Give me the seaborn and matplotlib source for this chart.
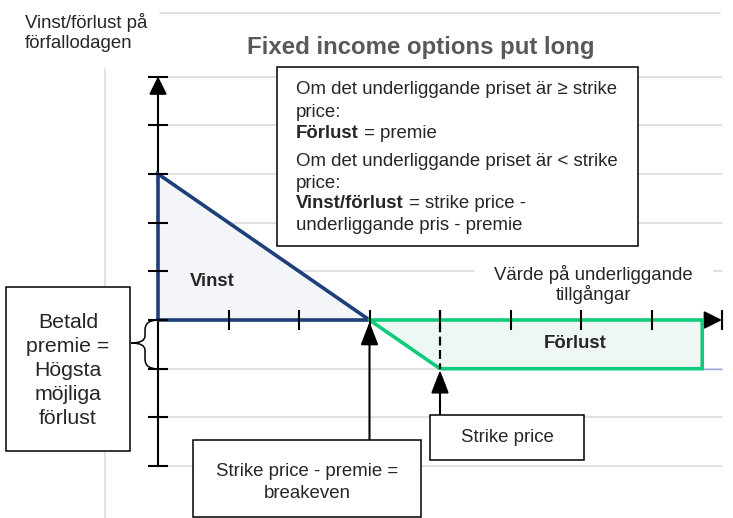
import matplotlib
matplotlib.use('Agg')
import matplotlib.pyplot as plt
import seaborn as sns
import pandas as pd
from matplotlib.patches import Rectangle, PathPatch
from matplotlib.path import Path

# payoff values (x: price steps, y: premium steps)
strike = 4
breakeven = 3
vinst_x = [0, 0, 3, 0]
vinst_y = [0, 3, 0, 0]
forlust_x = [3, 4, 7.72, 7.72, 3]
forlust_y = [0, -1, -1, 0, 0]
x_ticks = [1, 2, 3, 4, 5, 6, 7, 8]
y_ticks = [-3, -2, -1, 0, 1, 2, 3, 4, 5]
grid_y = [-3, -2, -1, 1, 2, 3, 4, 5]
x_end = 8

info_lines = [
    ("", "Om det underliggande priset är ≥ strike"),
    ("", "price:"),
    ("Förlust", " = premie"),
    ("", "Om det underliggande priset är < strike"),
    ("", "price:"),
    ("Vinst/förlust", " = strike price -"),
    ("", "underliggande pris - premie"),
]
premie_lines = ["Betald", "premie =", "Högsta", "möjliga", "förlust"]

blue = '#1d3f7a'
green = '#0fcc7c'
grid_c = '#d9d9d9'
fs = 13.4

sns.set_style('white')
plt.rcParams['font.family'] = ['Liberation Sans', 'DejaVu Sans']

# pixel layout of the picture
W, H = 733, 518
X0, Y0 = 158, 320
UX, UY = 70.5, 48.7


def px(x, y):
    return (x - X0) / UX, (Y0 - y) / UY


def box(x0, y0, x1, y1, **kw):
    bx, by = px(x0, y1)
    r = Rectangle((bx, by), (x1 - x0) / UX, (y1 - y0) / UY, **kw)
    ax.add_patch(r)


fig = plt.figure(figsize=(7.33, 5.18), dpi=100)
ax = fig.add_axes([0, 0, 1, 1])
ax.set_xlim(-X0 / UX, (W - X0) / UX)
ax.set_ylim(-(H - Y0) / UY, Y0 / UY)
ax.axis('off')

# gridlines and frame lines
ax.hlines(grid_y, 0, x_end, color=grid_c, lw=1.1, zorder=1)
ax.plot(*zip(px(160, 13), px(720, 13)), color=grid_c, lw=1.1, zorder=1)
ax.plot(*zip(px(105, 69), px(105, 520)), color=grid_c, lw=1.1, zorder=1)
ax.hlines(-1, forlust_x[2], x_end, color='#8faadc', lw=1, zorder=1)

# axes with arrows
head = dict(mutation_scale=20, lw=1.5, color='black', shrinkA=0, shrinkB=0)
ax.annotate('', xy=(0, y_ticks[-1]), xytext=(0, y_ticks[0]),
            arrowprops=dict(arrowstyle='-|>,head_length=0.54,head_width=0.27', **head), zorder=2)
ax.annotate('', xy=(x_end, 0), xytext=(0, 0),
            arrowprops=dict(arrowstyle='-|>,head_length=0.54,head_width=0.27', **head), zorder=2)

# profit / loss regions
ax.fill(vinst_x, vinst_y, color='#f3f5f9', lw=0, zorder=1.6)
ax.fill(forlust_x, forlust_y, color='#eef7f3', lw=0, zorder=1.6)
sns.lineplot(x=vinst_x, y=vinst_y, sort=False, estimator=None, color=blue, lw=2.6,
             solid_joinstyle='miter', ax=ax, zorder=3)
sns.lineplot(x=forlust_x, y=forlust_y, sort=False, estimator=None, color=green, lw=2.6,
             solid_joinstyle='miter', ax=ax, zorder=3)

# ticks
ax.plot(x_ticks, [0] * len(x_ticks), ls='none', marker='|', ms=13.7, mew=1.5, color='black', zorder=4)
ax.plot([0] * len(y_ticks), y_ticks, ls='none', marker='_', ms=15, mew=1.5, color='black', zorder=4)

# strike dashed line
ax.plot([strike, strike], [0.2, forlust_y[1]], color='black', lw=1.6, dashes=(4, 2), zorder=4)

# title and axis labels
ax.text(*px(421, 47), 'Fixed income options put long', ha='center', va='center',
        fontsize=17.3, fontweight='bold', color='#595959')
ax.text(*px(25, 22), 'Vinst/förlust på', ha='left', va='center', fontsize=fs)
ax.text(*px(25, 43), 'förfallodagen', ha='left', va='center', fontsize=fs)
box(474, 262, 713, 302, facecolor='white', edgecolor='none', zorder=1.5)
ax.text(*px(593, 274), 'Värde på underliggande', ha='center', va='center', fontsize=fs, zorder=5)
ax.text(*px(593, 295), 'tillgångar', ha='center', va='center', fontsize=fs, zorder=5)
ax.text(*px(190, 282), 'Vinst', ha='left', va='center', fontsize=fs, fontweight='bold', zorder=5)
ax.text(*px(575, 343), 'Förlust', ha='center', va='center', fontsize=fs, fontweight='bold', zorder=5)

# info box
box(277, 67, 638, 246, facecolor='white', edgecolor='black', lw=1.1, zorder=5)
for (b, rest), y in zip(info_lines, [90, 112, 133, 161, 183, 204, 226]):
    if b:
        t = ax.text(*px(296, y), b, ha='left', va='center', fontsize=fs, fontweight='bold', zorder=6)
        ax.annotate(rest, xy=(1, 0), xycoords=t, ha='left', va='bottom', fontsize=fs, zorder=6)
    else:
        ax.text(*px(296, y), rest, ha='left', va='center', fontsize=fs, zorder=6)

# premium box with brace
box(6, 287, 130, 451, facecolor='white', edgecolor='black', lw=1.1, zorder=5)
for i, s in enumerate(premie_lines):
    ax.text(*px(68, 323 + 24 * i), s, ha='center', va='center', fontsize=15.3, zorder=6)
brace = [(158, 320), (145, 320), (145, 330), (145, 336), (145, 343), (131, 343),
         (145, 343), (145, 350), (145, 359), (145, 369), (158, 369)]
codes = [Path.MOVETO, Path.CURVE3, Path.CURVE3, Path.LINETO, Path.CURVE3, Path.CURVE3,
         Path.CURVE3, Path.CURVE3, Path.LINETO, Path.CURVE3, Path.CURVE3]
ax.add_patch(PathPatch(Path([px(*p) for p in brace], codes), fill=False, lw=1.1,
                       edgecolor='black', zorder=5))

# breakeven and strike boxes with arrows
box(193, 440, 421, 517, facecolor='white', edgecolor='black', lw=1.1, zorder=5)
ax.text(*px(307, 471), 'Strike price - premie =', ha='center', va='center', fontsize=fs, zorder=6)
ax.text(*px(307, 493), 'breakeven', ha='center', va='center', fontsize=fs, zorder=6)
ax.annotate('', xy=(breakeven, -0.04), xytext=(breakeven, px(0, 440)[1]),
            arrowprops=dict(arrowstyle='-|>,head_length=0.7,head_width=0.27', **head), zorder=4)

box(430, 415, 584, 460, facecolor='white', edgecolor='black', lw=1.1, zorder=5)
ax.text(*px(507, 438), 'Strike price', ha='center', va='center', fontsize=fs, zorder=6)
ax.annotate('', xy=(strike, -1.03), xytext=(strike, px(0, 415)[1]),
            arrowprops=dict(arrowstyle='-|>,head_length=0.7,head_width=0.27', **head), zorder=4)

fig.savefig('out.png', dpi=100, facecolor='white')
